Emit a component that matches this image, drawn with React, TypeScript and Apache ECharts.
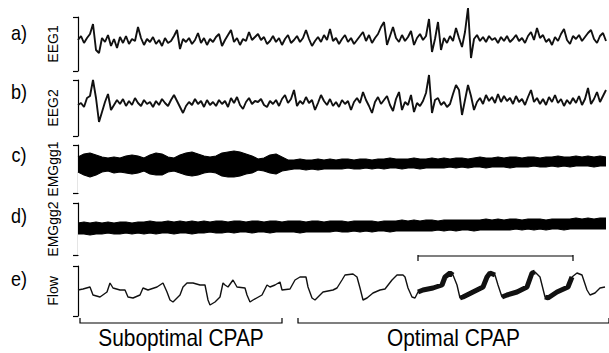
import React, { useEffect, useRef } from "react";
import * as echarts from "echarts";

// ---------- data (time in s, amplitudes in arbitrary display units) ----------
const EEG_DT = 0.3;
const EMG_DT = 0.6;

const eeg1 = [
  4, 8, 1, 6, 10, 20, -6, -9, 6, 2, 9, -2, 5, -4, 7, 1, 8, 0, 5, 3, 17, 6, -1, 5, 2, 7, 0, 4, -2, 6,
  1, 3, 8, 14, -5, 5, 2, 6, 0, 4, 11, 1, 6, -1, 5, 2, 7, 10, -2, 4, 9, 14, 2, 6, -1, 5, 3, 12, 4, 7,
  10, 4, 7, 0, 3, 8, 2, 6, -1, 5, 9, 1, 4, 8, 2, 6, 14, 5, -2, 3, 7, 2, 9, 4, 15, 3, 6, 0, 5, 9,
  2, 6, 0, 4, 8, 12, 3, 9, 1, 6, 10, 17, 22, -1, 8, 17, 6, 2, 9, 3, 7, 13, -1, 6, 10, 4, 8, 25, -8, 5,
  22, -6, 6, 1, 8, 3, 16, 6, -3, 12, 36, -14, 5, 9, 3, 7, 2, 8, 4, 6, 1, 7, 3, 8, 2, 5, 9, 3, 6, 1,
  8, 12, 4, 16, 6, 9, 2, 5, -1, 7, 3, 10, 15, 4, 0, 8, 5, 9, 3, 7, 11, 14, 5, 1, 8, 11, 3,
];

const eeg2 = [
  3, 5, 1, 10, 12, 28, 10, -14, -4, 6, 14, -2, 3, 8, 4, 9, 2, 7, 3, 10, 5, 2, 8, 4, 6, 1, 7, 3, 9, 5,
  2, 8, 13, 7, 1, -5, 2, 6, 3, 9, 4, 7, 1, 8, 3, 6, 2, 8, 4, 7, 1, 10, 5, 11, 3, -1, 6, 10, 4, 7,
  6, 9, 3, 1, 7, 4, 8, 2, 9, 13, 5, 9, 18, 2, 7, 4, 11, 5, 8, -2, 5, 13, 7, 3, 9, 2, 6, 1, 8, 4,
  7, -2, 6, 10, 5, 16, 8, 2, -5, 6, 11, 4, 8, 12, 3, -3, 9, 16, -2, 6, 3, 13, -4, 5, 2, 7, 15, 33, -5, 8,
  10, 3, 6, 1, 4, 14, 23, 18, -7, 8, 23, 12, -2, 6, 10, 4, 13, 7, 11, 5, 14, 6, 12, 7, 10, 4, 12, 6, 9, 3,
  11, 18, 6, 10, 4, 9, 3, 11, 6, 13, 5, 9, 2, 8, 4, 10, 5, 12, 3, 9, 20, 4, 9, 16, 6, 12, 18,
];

// EMG envelopes (upper / lower edge of the dense trace)
const emg1Upper = [
  12, 15, 16, 14, 12, 11, 12, 11, 13, 14, 13, 11, 14, 16, 15, 12, 11, 14, 16, 17,
  15, 13, 12, 13, 16, 17, 18, 17, 15, 13, 10, 11, 14, 15, 12, 9, 9, 10, 9, 9,
  10, 9, 10, 9, 10, 10, 9, 10, 10, 9, 10, 10, 11, 10, 10, 10, 11, 10, 10, 11,
  10, 11, 10, 11, 11, 10, 11, 12, 11, 11, 12, 11, 12, 12, 11, 12, 12, 11, 12, 12,
  13, 12, 12, 13, 12, 13, 12, 13, 12,
];
const emg1Lower = [
  -3, -6, -8, -6, -3, -2, -4, -3, -4, -5, -4, -2, -5, -6, -6, -3, -2, -4, -6, -7,
  -6, -4, -3, -4, -7, -8, -8, -7, -5, -4, -1, -2, -4, -5, -2, -1, 0, 0, -1, 0,
  -1, 0, 0, 0, 0, 1, 0, 0, 1, 0, 1, 0, 1, 1, 0, 1, 1, 0, 1, 1,
  1, 1, 2, 1, 2, 1, 2, 2, 1, 2, 2, 2, 1, 2, 2, 2, 3, 2, 2, 3,
  2, 3, 2, 3, 3, 3, 2, 3, 3,
];
const emg2Upper = [
  6, 7, 6, 7, 6, 7, 6, 7, 7, 6, 7, 7, 8, 7, 7, 8, 7, 8, 7, 8,
  7, 8, 7, 8, 8, 7, 8, 8, 7, 8, 8, 7, 8, 8, 7, 8, 8, 8, 7, 8,
  8, 7, 8, 8, 8, 7, 8, 8, 8, 8, 7, 8, 8, 8, 9, 8, 9, 8, 9, 9,
  8, 9, 9, 9, 9, 9, 9, 9, 10, 9, 10, 9, 10, 10, 9, 10, 10, 10, 9, 10,
  10, 10, 10, 11, 10, 11, 10, 11, 11,
];
const emg2Lower = [
  -5, -5, -6, -5, -5, -4, -5, -5, -4, -5, -4, -5, -4, -5, -4, -4, -5, -4, -4, -5,
  -4, -4, -3, -4, -4, -3, -4, -3, -3, -4, -3, -3, -4, -3, -3, -3, -3, -4, -3, -3,
  -3, -3, -3, -2, -3, -3, -2, -3, -2, -3, -2, -2, -3, -2, -2, -2, -2, -2, -2, -2,
  -1, -2, -1, -2, -1, -1, -2, -1, -1, -1, -1, -1, -1, 0, -1, 0, -1, 0, -1, 0,
  0, -1, 0, 0, 0, 0, 0, 0, 0,
];

const flowT = [
  0, 0.5, 1.2, 1.5, 2.2, 2.9, 3.2, 3.5, 4.2, 4.7, 5.0, 5.5, 6.2, 6.5, 7.0, 7.9, 8.5, 8.9, 9.2, 9.5,
  10.2, 10.5, 10.9, 11.5, 12.2, 12.7, 13.0, 13.2, 13.7, 14.2, 14.5, 14.7, 15.0, 15.5, 15.9, 16.7, 16.9, 17.2, 17.5, 18.4,
  18.9, 19.2, 19.7, 20.2, 20.4, 21.2, 21.7, 22.2, 22.8, 23.0, 23.4, 23.7, 24.0, 24.5, 25.5, 25.9, 26.4, 26.7, 27.5, 27.9,
  28.2, 28.5, 28.9, 29.5, 30.2, 30.7, 31.4, 31.9, 32.5, 32.7, 33.0, 33.4, 33.7, 34.0, 34.5, 35.5, 36.4, 36.7, 37.2, 37.5,
  37.9, 38.2, 38.5, 39.5, 40.5, 40.9, 41.2, 41.7, 42.0, 42.4, 42.9, 43.9, 44.9, 45.4, 45.7, 46.2, 46.7, 47.0, 47.9, 49.0,
  49.4, 49.9, 50.4, 50.9, 51.2, 51.7, 52.2, 52.7,
];
const flowV = [
  1, 2, 4, -4, -6, -1, 8, 3, 1, 1, -6, -7, -4, 3, 1, 4, 8, -1, -9, -11,
  -4, 4, 8, 8, 6, 6, -9, -14, -11, -6, 8, 6, 4, 11, 4, 3, -4, -11, -9, -4,
  6, 4, 6, 9, 1, 2, 11, 14, 14, 4, -7, -9, -6, -1, 1, 3, 11, 16, 17, 14,
  3, -9, -7, -2, 1, 2, 11, 16, 16, 14, 3, -6, -7, -1, 1, 3, 6, 14, 18, 16,
  6, -7, -6, -1, 4, 14, 18, 16, 6, -6, -4, -1, 4, 18, 19, 14, -6, -7, -1, 4,
  14, 18, 16, 1, -4, -2, 3, 4,
];
// periods where the flow trace is drawn heavy (high-frequency oscillation)
const thickSpans = [
  [34.0, 37.5],
  [38.2, 41.7],
  [42.4, 45.7],
  [46.7, 49.4],
];
const bracketSpan = [34.0, 49.5];

const panelLabels = ["a)", "b)", "c)", "d)", "e)"];
const channelNames = ["EEG1", "EEG2", "EMGgg1", "EMGgg2", "Flow"];
const periods = [
  { name: "Suboptimal CPAP", start: 0.2, end: 20.4 },
  { name: "Optimal CPAP", start: 22.0, end: 53.1 },
];

// ---------- layout ----------
const W = 609;
const H = 353;
const GRID_LEFT = 71;
const GRID_WIDTH = 538;
const X_MIN = -0.7;
const X_MAX = 53.1;
const panels = [
  { top: 17, height: 54, half: 27, labelY: 33 },
  { top: 80, height: 56, half: 28, labelY: 92 },
  { top: 145, height: 48, half: 24, labelY: 155 },
  { top: 203, height: 52, half: 26, labelY: 216 },
  { top: 266, height: 50, half: 25, labelY: 279 },
];
const FONT = '"Liberation Sans", Arial, Helvetica, sans-serif';

const toX = (t: number) => GRID_LEFT + ((t - X_MIN) / (X_MAX - X_MIN)) * GRID_WIDTH;

function buildOption() {
  const grid = panels.map((p) => ({ left: GRID_LEFT, width: GRID_WIDTH, top: p.top, height: p.height }));
  const xAxis = panels.map((_, i) => ({
    type: "value",
    gridIndex: i,
    min: X_MIN,
    max: X_MAX,
    show: false,
  }));
  const yAxis = panels.map((p, i) => ({
    type: "value",
    gridIndex: i,
    min: -p.half,
    max: p.half,
    axisLine: { show: true, lineStyle: { color: "#000", width: 1.2 } },
    axisTick: { show: true, length: 5, inside: false, customValues: [-p.half, p.half], lineStyle: { color: "#000", width: 1.2 } },
    axisLabel: { show: false },
    splitLine: { show: false },
  }));

  const lineBase = (idx: number, data: any[], width: number) => ({
    type: "line",
    xAxisIndex: idx,
    yAxisIndex: idx,
    data,
    showSymbol: false,
    symbol: "none",
    clip: false,
    silent: true,
    lineStyle: { color: "#111", width },
  });

  // dense EMG trace drawn as a filled envelope: black down from the upper edge,
  // then white down from the lower edge, leaving the band between them black
  const emgSeries = (idx: number, lower: number[], upper: number[]) => [
    {
      type: "line",
      xAxisIndex: idx,
      yAxisIndex: idx,
      symbol: "none",
      silent: true,
      lineStyle: { color: "#000", width: 1.2 },
      areaStyle: { color: "#000", opacity: 1, origin: "start" },
      data: upper.map((v, i) => [i * EMG_DT, v]),
    },
    {
      type: "line",
      xAxisIndex: idx,
      yAxisIndex: idx,
      symbol: "none",
      silent: true,
      lineStyle: { color: "#000", width: 1.2 },
      areaStyle: { color: "#fff", opacity: 1, origin: "start" },
      data: lower.map((v, i) => [i * EMG_DT, v]),
    },
  ];

  const inThick = (t: number) => thickSpans.some(([a, b]) => t >= a - 1e-9 && t <= b + 1e-9);

  const series: any[] = [
    lineBase(0, eeg1.map((v, i) => [i * EEG_DT, v]), 1.9),
    lineBase(1, eeg2.map((v, i) => [i * EEG_DT, v]), 1.9),
    ...emgSeries(2, emg1Lower, emg1Upper),
    ...emgSeries(3, emg2Lower, emg2Upper),
    lineBase(4, flowT.map((t, i) => [t, flowV[i]]), 1.4),
    { ...lineBase(4, flowT.map((t, i) => [t, inThick(t) ? flowV[i] : "-"]), 5), connectNulls: false },
  ];

  const graphic: any[] = [];
  panels.forEach((p, i) => {
    graphic.push({
      type: "text",
      x: 19,
      y: p.labelY,
      scaleX: 0.9,
      silent: true,
      style: {
        text: panelLabels[i],
        fontFamily: FONT,
        fontSize: 20,
        fill: "#000",
        textAlign: "center",
        textVerticalAlign: "middle",
      },
    });
    graphic.push({
      type: "text",
      x: 53,
      y: p.top + p.height / 2,
      rotation: Math.PI / 2,
      silent: true,
      style: {
        text: channelNames[i],
        fontFamily: FONT,
        fontSize: 14,
        fill: "#000",
        textAlign: "center",
        textVerticalAlign: "middle",
      },
    });
  });

  // heavy-flow period bracket
  const bx1 = toX(bracketSpan[0]);
  const bx2 = toX(bracketSpan[1]);
  const by = 256;
  graphic.push(
    { type: "line", silent: true, shape: { x1: bx1, y1: by, x2: bx2, y2: by }, style: { stroke: "#000", lineWidth: 1.2 } },
    { type: "line", silent: true, shape: { x1: bx1, y1: by - 4, x2: bx1, y2: by + 5 }, style: { stroke: "#000", lineWidth: 1.2 } },
    { type: "line", silent: true, shape: { x1: bx2, y1: by - 4, x2: bx2, y2: by + 5 }, style: { stroke: "#000", lineWidth: 1.2 } }
  );

  // CPAP period brackets and labels
  const py = 323;
  periods.forEach((pr) => {
    const x1 = toX(pr.start);
    const x2 = Math.min(toX(pr.end), W);
    graphic.push({
      type: "polyline",
      silent: true,
      shape: { points: [[x1, py - 5], [x1, py], [x2, py], [x2, py - 5]] },
      style: { stroke: "#000", lineWidth: 1.2, fill: null },
    });
    graphic.push({
      type: "text",
      x: (x1 + x2) / 2,
      y: 338,
      scaleX: 0.87,
      silent: true,
      style: {
        text: pr.name,
        fontFamily: FONT,
        fontSize: 24,
        fill: "#000",
        textAlign: "center",
        textVerticalAlign: "middle",
      },
    });
  });

  return {
    animation: false,
    backgroundColor: "#fff",
    grid,
    xAxis,
    yAxis,
    series,
    graphic,
  };
}

export default function App() {
  const ref = useRef<HTMLDivElement>(null);
  useEffect(() => {
    document.body.style.margin = "0";
    if (!ref.current) return;
    const chart = echarts.init(ref.current, null, { renderer: "svg" });
    chart.setOption(buildOption() as any);
    return () => chart.dispose();
  }, []);
  return <div ref={ref} style={{ width: W, height: H }} />;
}
